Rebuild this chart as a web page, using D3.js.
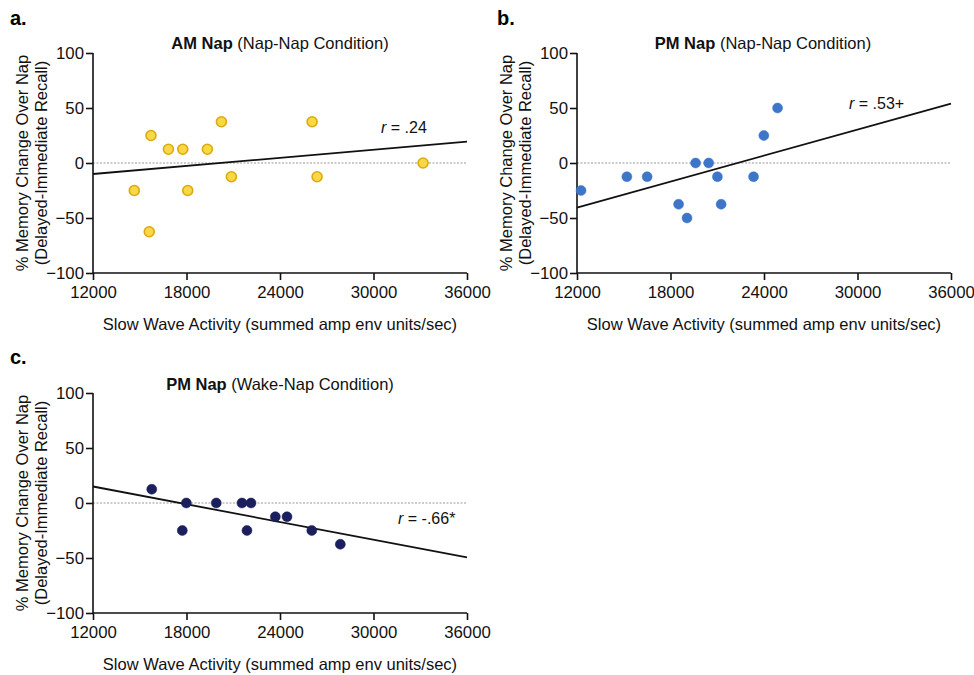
<!DOCTYPE html>
<html>
<head>
  <meta charset="utf-8">
  <title>Slow wave activity vs memory change</title>
  <script src="https://d3js.org/d3.v7.min.js"></script>
  <style>
    body { margin: 0; background: #fff; }
    text { font-family: "Liberation Sans", Arial, sans-serif; }
  </style>
</head>
<body>
  <div id="chart"></div>

  <script>
    // values
    var xTicks = [12000, 18000, 24000, 30000, 36000];
    var yTicks = [-100, -50, 0, 50, 100];

    var amSwa = [14650, 15720, 15610, 16840, 17760, 18080, 19340, 20240, 20880, 26060, 26380, 33180];
    var amMem = [-25, 25, -62.5, 12.5, 12.5, -25, 12.5, 37.5, -12.5, 37.5, -12.5, 0];
    var amFit = [[12000, -10], [36000, 19.5]];

    var pmSwa = [12260, 15200, 16500, 18520, 19060, 19610, 20450, 21010, 21250, 23330, 23990, 24870];
    var pmMem = [-25, -12.5, -12.5, -37.5, -50, 0, 0, -12.5, -37.5, -12.5, 25, 50];
    var pmFit = [[12000, -40.5], [36000, 54]];

    var wakeSwa = [15770, 17730, 17990, 19910, 21560, 21880, 22140, 23700, 24450, 26040, 27870];
    var wakeMem = [12.5, -25, 0, 0, 0, -25, 0, -12.5, -12.5, -25, -37.5];
    var wakeFit = [[12000, 15], [36000, -49.5]];

    var svg = d3.select("#chart").append("svg")
      .attr("width", 974)
      .attr("height", 675);

    // one scatter panel
    function drawPanel(opt) {
      var g = svg.append("g").attr("transform", "translate(" + opt.left + "," + opt.top + ")");
      var w = 374, h = 220;

      var x = d3.scaleLinear().domain([12000, 36000]).range([0, w]);
      var y = d3.scaleLinear().domain([-100, 100]).range([h, 0]);

      // panel letter
      g.append("text")
        .attr("x", opt.letterX).attr("y", opt.letterY)
        .attr("font-size", 20).attr("font-weight", "bold")
        .text(opt.letter);

      // title
      var t = g.append("text")
        .attr("x", opt.titleX).attr("y", opt.titleY)
        .attr("text-anchor", "middle")
        .attr("font-size", 16.5).attr("fill", "#111");
      t.append("tspan").attr("font-weight", "bold").text(opt.bold);
      t.append("tspan").text(" " + opt.rest);

      // zero reference
      g.append("line")
        .attr("x1", 0).attr("x2", w)
        .attr("y1", y(0)).attr("y2", y(0))
        .attr("stroke", "#999").attr("stroke-width", 1)
        .attr("stroke-dasharray", "2,1.5");

      // axes
      var xa = g.append("g")
        .attr("transform", "translate(0," + h + ")")
        .call(d3.axisBottom(x).tickValues(xTicks).tickSize(7).tickPadding(6).tickFormat(d3.format("d")));
      var ya = g.append("g")
        .call(d3.axisLeft(y).tickValues(yTicks).tickSize(7).tickPadding(2));
      [xa, ya].forEach(function(a) {
        a.select(".domain").attr("stroke", "#111").attr("stroke-width", 1.6);
        a.selectAll(".tick line").attr("stroke", "#111").attr("stroke-width", 1.6);
        a.selectAll(".tick text").attr("font-size", 16.8).attr("fill", "#111")
          .attr("font-family", "Liberation Sans, Arial, sans-serif");
      });
      xa.select(".domain").attr("d", "M0,0H" + w);
      ya.select(".domain").attr("d", "M0," + h + "V0");

      // regression line
      g.append("line")
        .attr("x1", x(opt.fit[0][0])).attr("y1", y(opt.fit[0][1]))
        .attr("x2", x(opt.fit[1][0])).attr("y2", y(opt.fit[1][1]))
        .attr("stroke", "#111").attr("stroke-width", 1.8);

      // points
      g.selectAll("circle")
        .data(opt.xs.map(function(v, i) { return [v, opt.ys[i]]; }))
        .enter().append("circle")
        .attr("cx", d => x(d[0]))
        .attr("cy", d => y(d[1]))
        .attr("r", opt.r)
        .attr("fill", opt.fill)
        .attr("stroke", opt.stroke)
        .attr("stroke-width", opt.sw);

      // r label
      var rl = g.append("text")
        .attr("x", opt.rX).attr("y", opt.rY)
        .attr("font-size", 16).attr("fill", "#111");
      rl.append("tspan").attr("font-style", "italic").text("r");
      rl.append("tspan").text(" = " + opt.rText);

      // y label
      var yl = g.append("text")
        .attr("transform", "translate(" + (-65) + "," + (h / 2) + ") rotate(-90)")
        .attr("text-anchor", "middle")
        .attr("font-size", 16.5).attr("fill", "#111");
      yl.append("tspan").attr("x", 0).attr("dy", 0).text("% Memory Change Over Nap");
      yl.append("tspan").attr("x", 0).attr("dy", 19).text("(Delayed-Immediate Recall)");

      // x label
      g.append("text")
        .attr("x", w / 2).attr("y", h + 57)
        .attr("text-anchor", "middle")
        .attr("font-size", 16.5).attr("fill", "#111")
        .text("Slow Wave Activity (summed amp env units/sec)");
    }

    drawPanel({
      left: 93, top: 53, letter: "a.", letterX: -83, letterY: -28,
      titleX: 187, titleY: -4, bold: "AM Nap", rest: "(Nap-Nap Condition)",
      xs: amSwa, ys: amMem, fit: amFit,
      fill: "#f8d845", stroke: "#dcaa10", sw: 1.6, r: 5,
      rX: 288, rY: 80, rText: ".24"
    });

    drawPanel({
      left: 577, top: 53, letter: "b.", letterX: -80, letterY: -28,
      titleX: 186, titleY: -4, bold: "PM Nap", rest: "(Nap-Nap Condition)",
      xs: pmSwa, ys: pmMem, fit: pmFit,
      fill: "#3d76c9", stroke: "#3d76c9", sw: 0.5, r: 5,
      rX: 272, rY: 56, rText: ".53+"
    });

    drawPanel({
      left: 93, top: 393, letter: "c.", letterX: -83, letterY: -29,
      titleX: 187, titleY: -3, bold: "PM Nap", rest: "(Wake-Nap Condition)",
      xs: wakeSwa, ys: wakeMem, fit: wakeFit,
      fill: "#1b1f5e", stroke: "#1b1f5e", sw: 0.5, r: 5,
      rX: 305, rY: 131, rText: "-.66*"
    });
  </script>
</body>
</html>
